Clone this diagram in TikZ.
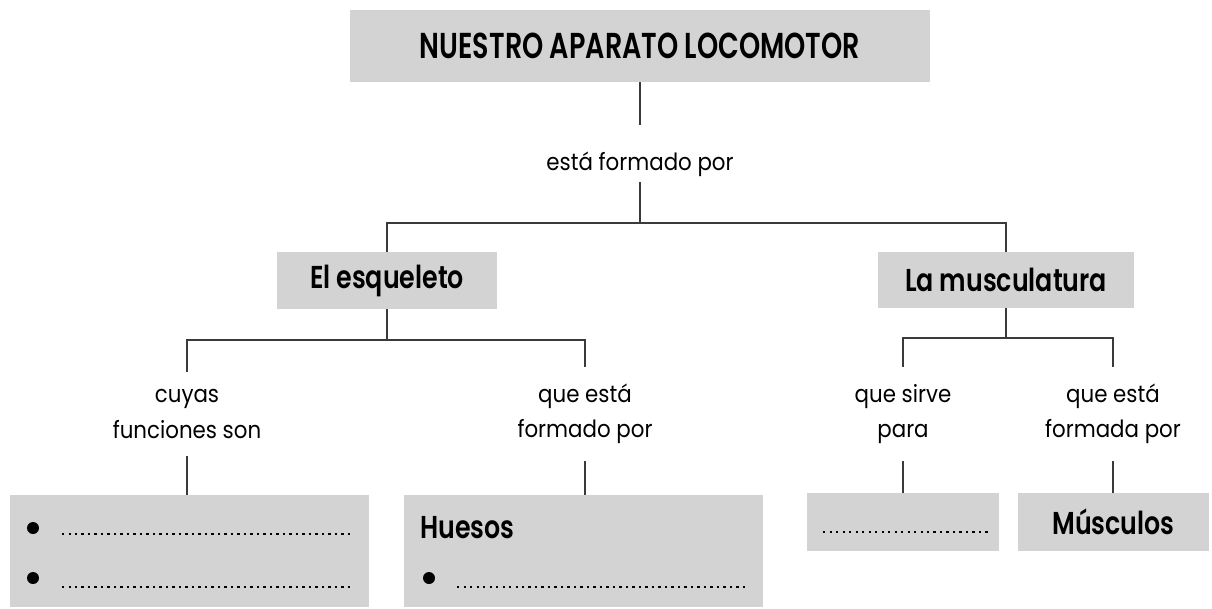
\documentclass[tikz,border=0pt]{standalone}
\usepackage{fontspec}
\setmainfont{Poppins}[FakeStretch=0.9]
\IfFontExistsTF{Poppins SemiBold}
  {\newfontfamily\cabecera{Poppins SemiBold}[FakeStretch=0.8]
   \newfontfamily\titular{Poppins SemiBold}[FakeStretch=0.75]}
  {\newfontfamily\cabecera{Poppins Bold}[FakeStretch=0.78]
   \newfontfamily\titular{Poppins Bold}[FakeStretch=0.74]}
\usepackage{xcolor}
\usepackage{tikz}
\usetikzlibrary{positioning}

\definecolor{grisCaja}{HTML}{D3D3D3}
\definecolor{grisLinea}{HTML}{3A3A3A}

\begin{document}
\begin{tikzpicture}[x=0.02cm, y=-0.02cm,
  caja/.style={fill=grisCaja, inner sep=0pt},
  titulo/.style={font=\titular\fontsize{20.5}{24}\selectfont},
  rama/.style={font=\cabecera\fontsize{18}{22}\selectfont},
  enlace/.style={font=\fontsize{13.5}{20}\selectfont, align=center, inner xsep=0pt, inner ysep=0.34cm},
  linea/.style={draw=grisLinea, line width=0.9pt},
  puntos/.style={line width=0.045cm, dash pattern=on 0.045cm off 0.085cm},
  vineta/.style={fill=black}
]
\useasboundingbox (0,0) rectangle (1212,608);

% Main box
\node[caja, titulo, minimum width=11.62cm, minimum height=1.44cm] (aparato) at (640,46) {NUESTRO APARATO LOCOMOTOR};
\node[font=\fontsize{13.5}{20}\selectfont, anchor=base, text height=0.9cm, text depth=0.24cm, inner sep=0pt] (forma) at (640,170) {está formado por};

% Two branches
\node[caja, rama, minimum width=4.4cm, minimum height=1.14cm] (esqueleto) at (387,280.5) {El esqueleto};
\node[caja, rama, minimum width=5.12cm, minimum height=1.12cm] (musculatura) at (1006,280) {La musculatura};

\coordinate (horq1) at (640,223);
\draw[linea] (aparato) -- (forma);
\draw[linea] (forma) -- (horq1);
\draw[linea] (esqueleto) |- (horq1) -| (musculatura);

% Links under each branch
\node[enlace] (funciones) at (187,414) {cuyas\\funciones son};
\node[enlace] (formadoEsq) at (585,414) {que está\\formado por};
\node[enlace] (sirve) at (903,414) {que sirve\\para};
\node[enlace] (formadaMus) at (1113,414) {que está\\formada por};

\coordinate (horq2) at (387,340);
\coordinate (horq3) at (1006,338);
\draw[linea] (esqueleto) -- (horq2);
\draw[linea] (funciones) |- (horq2) -| (formadoEsq);
\draw[linea] (musculatura) -- (horq3);
\draw[linea] (sirve) |- (horq3) -| (formadaMus);

% Bottom boxes
\node[caja, minimum width=7.18cm, minimum height=2.24cm] (funcCaja) at (189.5,551) {};
\node[caja, minimum width=7.18cm, minimum height=2.24cm] (huesosCaja) at (583.5,551) {};
\node[caja, minimum width=3.84cm, minimum height=1.16cm] (sirveCaja) at (903,522) {};
\node[caja, rama, minimum width=3.82cm, minimum height=1.16cm] (musculosCaja) at (1113.5,522) {Músculos};
\node[rama, anchor=base west, inner sep=0pt] (huesos) at (420,538) {Huesos};

\draw[linea] (funciones) -- (funciones |- funcCaja.north);
\draw[linea] (formadoEsq) -- (formadoEsq |- huesosCaja.north);
\draw[linea] (sirve) -- (sirve |- sirveCaja.north);
\draw[linea] (formadaMus) -- (formadaMus |- musculosCaja.north);

% Bullets and dotted lines to fill in
\fill[vineta] (33,528) circle (0.12cm);
\fill[vineta] (33,578) circle (0.12cm);
\fill[vineta] (429,578) circle (0.12cm);
\draw[puntos] (62,534) -- (352,534);
\draw[puntos] (62,587) -- (352,587);
\draw[puntos] (457,587) -- (747,587);
\draw[puntos] (823,532) -- (988,532);

\end{tikzpicture}
\end{document}
